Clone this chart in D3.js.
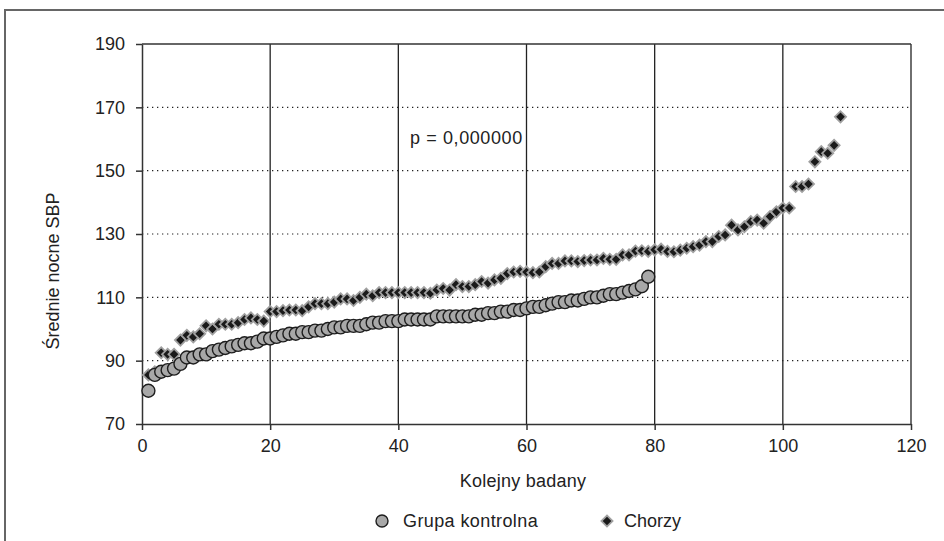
<!DOCTYPE html>
<html>
<head>
<meta charset="utf-8">
<script src="https://cdn.jsdelivr.net/npm/d3@7"></script>
<style>
  body { margin: 0; background: #fff; }
  svg text { font-family: "Liberation Sans", Arial, sans-serif; fill: #222; }
</style>
</head>
<body>
<svg width="944" height="541"></svg>
<script>
// Grupa kontrolna, ordered by value (x = 1..79)
var kontrolna = [80.5, 85.5, 86.5, 87, 87.5, 89, 91, 91, 92, 92,
  93, 93.5, 94, 94.5, 95, 95.5, 95.5, 96, 97, 97,
  97.5, 98, 98.5, 98.5, 99, 99, 99.5, 99.5, 100, 100.5,
  100.5, 101, 101, 101, 101.5, 102, 102, 102.5, 102.5, 102.5,
  103, 103, 103, 103, 103, 104, 104, 104, 104, 104,
  104, 104.5, 104.5, 105, 105, 105.5, 105.5, 106, 106, 106.5,
  107, 107, 107.5, 108, 108.5, 108.5, 109, 109, 109.5, 110,
  110, 110.5, 111, 111, 111.5, 112, 112.5, 113.5, 116.5];

// Chorzy, ordered by value (x = 1..109)
var chorzy = [85.5, 86.5, 92.5, 92, 92, 96.5, 98, 97.5, 98.5, 101,
  100, 101.5, 101.5, 101.5, 102, 103, 103.5, 103, 102.5, 105.5,
  105.5, 105.8, 106, 106, 105.8, 107, 108, 108, 108, 108.5,
  109.5, 109.5, 109, 110, 111, 110.5, 111.5, 111.5, 111.5, 111.5,
  111.5, 111.5, 111.5, 111.5, 111.3, 112.3, 112.8, 112.3, 114, 113.4,
  113.4, 114, 115, 114.5, 115.5, 116, 117.5, 118, 118.2, 118,
  117.8, 118, 119.7, 120.7, 120.7, 121.5, 121.5, 121.3, 121.6, 121.8,
  121.8, 122.3, 122, 122, 123.4, 123.4, 124.6, 124.7, 124.5, 125,
  125.2, 124.5, 124.4, 124.9, 125.5, 126, 126.5, 127.6, 127.6, 129.2,
  129.7, 132.8, 131.3, 132.3, 133.9, 134.4, 133.4, 135.5, 137, 138.2,
  138.2, 145, 145, 145.8, 152.8, 156, 155.5, 158, 167];

var xTicks = [0, 20, 40, 60, 80, 100, 120];
var yTicks = [70, 90, 110, 130, 150, 170, 190];
var seriesNames = ['Grupa kontrolna', 'Chorzy'];
var note = 'p = 0,000000';

var svg = d3.select('svg');
var plotL = 142, plotR = 911, plotT = 44, plotB = 424;

var x = d3.scaleLinear().domain([0, 120]).range([plotL, plotR]);
var y = d3.scaleLinear().domain([70, 190]).range([plotB, plotT]);

// outer frame (only left and top edges fall inside the picture)
svg.append('path')
  .attr('d', 'M5,560V10H960')
  .attr('fill', 'none')
  .attr('stroke', '#666')
  .attr('stroke-width', 2);

// dotted horizontal grid
svg.append('g')
  .selectAll('line')
  .data(yTicks.slice(1, -1))
  .enter()
  .append('line')
  .attr('x1', plotL)
  .attr('x2', plotR)
  .attr('y1', function (d) { return y(d); })
  .attr('y2', function (d) { return y(d); })
  .attr('stroke', '#222')
  .attr('stroke-width', 1.2)
  .attr('stroke-dasharray', '1.3,3.7');

// solid vertical grid + plot top / right
svg.append('g')
  .selectAll('line')
  .data(xTicks.slice(1))
  .enter()
  .append('line')
  .attr('x1', function (d) { return x(d); })
  .attr('x2', function (d) { return x(d); })
  .attr('y1', plotT)
  .attr('y2', plotB)
  .attr('stroke', '#222')
  .attr('stroke-width', 1.3);
svg.append('line')
  .attr('x1', plotL).attr('x2', plotR)
  .attr('y1', plotT).attr('y2', plotT)
  .attr('stroke', '#333').attr('stroke-width', 1.5);

// axes
var yAxis = svg.append('g')
  .attr('transform', 'translate(' + plotL + ',0)')
  .call(d3.axisLeft(y).tickValues(yTicks).tickSize(6).tickPadding(11).tickSizeOuter(0));
var xAxis = svg.append('g')
  .attr('transform', 'translate(0,' + plotB + ')')
  .call(d3.axisBottom(x).tickValues(xTicks).tickSize(6).tickPadding(9).tickSizeOuter(0));
[xAxis, yAxis].forEach(function (a) {
  a.select('.domain').attr('stroke', '#333').attr('stroke-width', 1.5);
  a.selectAll('.tick line').attr('stroke', '#333').attr('stroke-width', 1.5);
  a.selectAll('.tick text')
    .style('font-size', '18px')
    .attr('fill', '#222');
});

// markers
var diamond = d3.symbol().type(d3.symbolSquare).size(62);

svg.append('g')
  .selectAll('path')
  .data(chorzy)
  .enter()
  .append('path')
  .attr('d', diamond)
  .attr('transform', function (d, i) {
    return 'translate(' + x(i + 1) + ',' + y(d) + ') rotate(45)';
  })
  .attr('fill', '#1a1a1a')
  .attr('stroke', '#a0a0a0')
  .attr('stroke-width', 1.8);

svg.append('g')
  .selectAll('circle')
  .data(kontrolna)
  .enter()
  .append('circle')
  .attr('cx', function (d, i) { return x(i + 1); })
  .attr('cy', function (d) { return y(d); })
  .attr('r', 6.5)
  .attr('fill', '#a8a8a8')
  .attr('stroke', '#1e1e1e')
  .attr('stroke-width', 1.4);

// annotation
svg.append('text')
  .attr('x', 410)
  .attr('y', 143.5)
  .style('font-size', '18px')
  .style('letter-spacing', '0.6px')
  .text(note);

// axis titles
svg.append('text')
  .attr('x', 523)
  .attr('y', 487)
  .attr('text-anchor', 'middle')
  .style('font-size', '18px')
  .style('letter-spacing', '0.25px')
  .text('Kolejny badany');
svg.append('text')
  .attr('transform', 'translate(59,271) rotate(-90)')
  .attr('text-anchor', 'middle')
  .style('font-size', '18px')
  .text('Średnie nocne SBP');

// legend
var lg = svg.append('g');
lg.append('circle')
  .attr('cx', 382).attr('cy', 521)
  .attr('r', 6)
  .attr('fill', '#a8a8a8')
  .attr('stroke', '#1e1e1e')
  .attr('stroke-width', 1.4);
lg.append('text')
  .attr('x', 403).attr('y', 527)
  .style('font-size', '18px')
  .style('letter-spacing', '0.4px')
  .text(seriesNames[0]);
lg.append('path')
  .attr('d', diamond)
  .attr('transform', 'translate(607,521) rotate(45)')
  .attr('fill', '#1a1a1a')
  .attr('stroke', '#a0a0a0')
  .attr('stroke-width', 1.8);
lg.append('text')
  .attr('x', 624).attr('y', 527)
  .style('font-size', '18px')
  .text(seriesNames[1]);
</script>
</body>
</html>
